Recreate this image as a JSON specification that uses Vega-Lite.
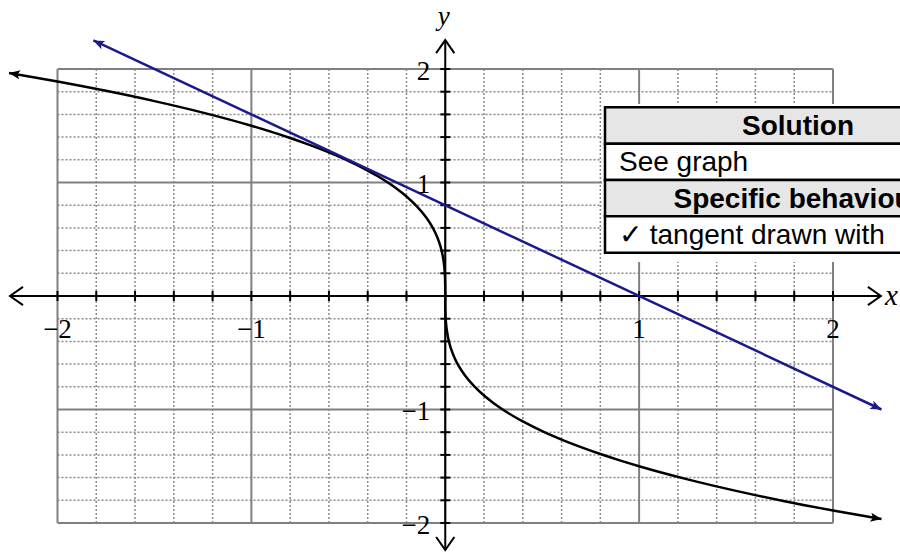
{
  "$schema": "https://vega.github.io/schema/vega-lite/v6.json",
  "width": 900,
  "height": 552,
  "padding": 0,
  "autosize": {"type": "none"},
  "background": "white",
  "config": {"view": {"stroke": null}},
  "datasets": {
    "grid": [
      {"v": -2, "major": true}, {"v": -1.8, "major": false}, {"v": -1.6, "major": false}, {"v": -1.4, "major": false}, {"v": -1.2, "major": false},
      {"v": -1, "major": true}, {"v": -0.8, "major": false}, {"v": -0.6, "major": false}, {"v": -0.4, "major": false}, {"v": -0.2, "major": false},
      {"v": 0, "major": true}, {"v": 0.2, "major": false}, {"v": 0.4, "major": false}, {"v": 0.6, "major": false}, {"v": 0.8, "major": false},
      {"v": 1, "major": true}, {"v": 1.2, "major": false}, {"v": 1.4, "major": false}, {"v": 1.6, "major": false}, {"v": 1.8, "major": false},
      {"v": 2, "major": true}
    ],
    "axisEnds": [
      {"axis": "x", "dir": "left", "x": -2.245, "y": 0},
      {"axis": "x", "dir": "right", "x": 2.247, "y": 0},
      {"axis": "y", "dir": "down", "x": 0, "y": -2.238},
      {"axis": "y", "dir": "up", "x": 0, "y": 2.255}
    ],
    "curve": [
      {"x": -2.25, "y": 1.9656, "end": "left"},
      {"x": -2.0, "y": 1.8899}, {"x": -1.75, "y": 1.8077}, {"x": -1.5, "y": 1.7171}, {"x": -1.25, "y": 1.6158},
      {"x": -1.0, "y": 1.5}, {"x": -0.9, "y": 1.4482}, {"x": -0.8, "y": 1.3925}, {"x": -0.7, "y": 1.3319},
      {"x": -0.6, "y": 1.2651}, {"x": -0.5, "y": 1.1906}, {"x": -0.4, "y": 1.1052}, {"x": -0.35, "y": 1.0571},
      {"x": -0.3, "y": 1.0041}, {"x": -0.25, "y": 0.9449}, {"x": -0.2, "y": 0.8772}, {"x": -0.15, "y": 0.797},
      {"x": -0.1, "y": 0.6963}, {"x": -0.07, "y": 0.6182}, {"x": -0.05, "y": 0.5526}, {"x": -0.03, "y": 0.4661},
      {"x": -0.02, "y": 0.4072}, {"x": -0.01, "y": 0.3232}, {"x": -0.005, "y": 0.2565}, {"x": -0.002, "y": 0.189},
      {"x": -0.001, "y": 0.15}, {"x": -0.0003, "y": 0.1004}, {"x": -0.0001, "y": 0.0696},
      {"x": 0, "y": 0},
      {"x": 0.0001, "y": -0.0696}, {"x": 0.0003, "y": -0.1004}, {"x": 0.001, "y": -0.15}, {"x": 0.002, "y": -0.189},
      {"x": 0.005, "y": -0.2565}, {"x": 0.01, "y": -0.3232}, {"x": 0.02, "y": -0.4072}, {"x": 0.03, "y": -0.4661},
      {"x": 0.05, "y": -0.5526}, {"x": 0.07, "y": -0.6182}, {"x": 0.1, "y": -0.6963}, {"x": 0.15, "y": -0.797},
      {"x": 0.2, "y": -0.8772}, {"x": 0.25, "y": -0.9449}, {"x": 0.3, "y": -1.0041}, {"x": 0.35, "y": -1.0571},
      {"x": 0.4, "y": -1.1052}, {"x": 0.5, "y": -1.1906}, {"x": 0.6, "y": -1.2651}, {"x": 0.7, "y": -1.3319},
      {"x": 0.8, "y": -1.3925}, {"x": 0.9, "y": -1.4482}, {"x": 1.0, "y": -1.5}, {"x": 1.25, "y": -1.6158},
      {"x": 1.5, "y": -1.7171}, {"x": 1.75, "y": -1.8077}, {"x": 2.0, "y": -1.8899},
      {"x": 2.25, "y": -1.9656, "end": "right"}
    ],
    "tangent": [
      {"x": -1.815, "y": 2.252, "end": "left"},
      {"x": 2.25, "y": -1.0, "end": "right"}
    ],
    "xlabels": [
      {"v": -2, "t": "−2"}, {"v": -1, "t": "−1"}, {"v": 1, "t": "1"}, {"v": 2, "t": "2"}
    ],
    "ylabels": [
      {"v": 2, "t": "2"}, {"v": 1, "t": "1"}, {"v": -1, "t": "−1"}, {"v": -2, "t": "−2"}
    ],
    "table": [
      {"row": 0, "end": 1, "label": "Solution", "head": true},
      {"row": 1, "end": 2, "label": "See graph", "head": false},
      {"row": 2, "end": 3, "label": "Specific behaviour", "head": true},
      {"row": 3, "end": 4, "label": "✓ tangent drawn with", "head": false}
    ]
  },
  "resolve": {"scale": {"y": "independent"}},
  "layer": [
    {
      "layer": [
        {
          "data": {"name": "grid"},
          "transform": [{"filter": "!datum.major"}],
          "mark": {"type": "rule", "color": "#8a8a8a", "strokeWidth": 1.5, "strokeDash": [2, 2]},
          "encoding": {
            "x": {"field": "v", "type": "quantitative", "scale": {"domain": [-2.2966, 2.3456], "nice": false, "zero": false}, "axis": null},
            "y": {"datum": -2, "type": "quantitative", "scale": {"domain": [-2.2555, 2.6079], "nice": false, "zero": false}, "axis": null},
            "y2": {"datum": 2}
          }
        },
        {
          "data": {"name": "grid"},
          "transform": [{"filter": "!datum.major"}],
          "mark": {"type": "rule", "color": "#8a8a8a", "strokeWidth": 1.5, "strokeDash": [2, 2]},
          "encoding": {
            "y": {"field": "v", "type": "quantitative", "scale": {"domain": [-2.2555, 2.6079], "nice": false, "zero": false}, "axis": null},
            "x": {"datum": -2, "type": "quantitative", "scale": {"domain": [-2.2966, 2.3456], "nice": false, "zero": false}, "axis": null},
            "x2": {"datum": 2}
          }
        },
        {
          "data": {"name": "grid"},
          "transform": [{"filter": "datum.major"}],
          "mark": {"type": "rule", "color": "#808080", "strokeWidth": 2},
          "encoding": {
            "x": {"field": "v", "type": "quantitative", "scale": {"domain": [-2.2966, 2.3456], "nice": false, "zero": false}, "axis": null},
            "y": {"datum": -2, "type": "quantitative", "scale": {"domain": [-2.2555, 2.6079], "nice": false, "zero": false}, "axis": null},
            "y2": {"datum": 2}
          }
        },
        {
          "data": {"name": "grid"},
          "transform": [{"filter": "datum.major"}],
          "mark": {"type": "rule", "color": "#808080", "strokeWidth": 2},
          "encoding": {
            "y": {"field": "v", "type": "quantitative", "scale": {"domain": [-2.2555, 2.6079], "nice": false, "zero": false}, "axis": null},
            "x": {"datum": -2, "type": "quantitative", "scale": {"domain": [-2.2966, 2.3456], "nice": false, "zero": false}, "axis": null},
            "x2": {"datum": 2}
          }
        },
        {
          "data": {"name": "axisEnds"},
          "mark": {"type": "line", "color": "black", "strokeWidth": 2},
          "encoding": {
            "x": {"field": "x", "type": "quantitative", "scale": {"domain": [-2.2966, 2.3456], "nice": false, "zero": false}, "axis": null},
            "y": {"field": "y", "type": "quantitative", "scale": {"domain": [-2.2555, 2.6079], "nice": false, "zero": false}, "axis": null},
            "detail": {"field": "axis"}
          }
        },
        {
          "data": {"name": "grid"},
          "mark": {"type": "point", "shape": "stroke", "angle": 90, "size": 100, "filled": false, "color": "black", "strokeWidth": 2, "opacity": 1},
          "encoding": {
            "x": {"field": "v", "type": "quantitative", "scale": {"domain": [-2.2966, 2.3456], "nice": false, "zero": false}, "axis": null},
            "y": {"datum": 0, "type": "quantitative", "scale": {"domain": [-2.2555, 2.6079], "nice": false, "zero": false}, "axis": null}
          }
        },
        {
          "data": {"name": "grid"},
          "mark": {"type": "point", "shape": "stroke", "angle": 0, "size": 100, "filled": false, "color": "black", "strokeWidth": 2, "opacity": 1},
          "encoding": {
            "y": {"field": "v", "type": "quantitative", "scale": {"domain": [-2.2555, 2.6079], "nice": false, "zero": false}, "axis": null},
            "x": {"datum": 0, "type": "quantitative", "scale": {"domain": [-2.2966, 2.3456], "nice": false, "zero": false}, "axis": null}
          }
        },
        {
          "data": {"name": "axisEnds"},
          "mark": {"type": "point", "filled": false, "color": "black", "strokeWidth": 2, "size": 676, "opacity": 1},
          "encoding": {
            "x": {"field": "x", "type": "quantitative", "scale": {"domain": [-2.2966, 2.3456], "nice": false, "zero": false}, "axis": null},
            "y": {"field": "y", "type": "quantitative", "scale": {"domain": [-2.2555, 2.6079], "nice": false, "zero": false}, "axis": null},
            "shape": {
              "field": "dir", "type": "nominal", "legend": null,
              "scale": {
                "domain": ["left", "right", "up", "down"],
                "range": ["M 1 -0.7 L 0 0 L 1 0.7", "M -1 -0.7 L 0 0 L -1 0.7", "M -0.7 1 L 0 0 L 0.7 1", "M -0.7 -1 L 0 0 L 0.7 -1"]
              }
            }
          }
        },
        {
          "data": {"name": "curve"},
          "mark": {"type": "line", "color": "black", "strokeWidth": 2.5, "interpolate": "monotone"},
          "encoding": {
            "x": {"field": "x", "type": "quantitative", "scale": {"domain": [-2.2966, 2.3456], "nice": false, "zero": false}, "axis": null},
            "y": {"field": "y", "type": "quantitative", "scale": {"domain": [-2.2555, 2.6079], "nice": false, "zero": false}, "axis": null}
          }
        },
        {
          "data": {"name": "curve"},
          "transform": [{"filter": "datum.end == 'left'"}],
          "mark": {"type": "point", "shape": "M 0 0 L -1 -0.42 L -0.78 0 L -1 0.42 Z", "filled": true, "color": "black", "size": 484, "angle": 189.67, "opacity": 1},
          "encoding": {
            "x": {"field": "x", "type": "quantitative", "scale": {"domain": [-2.2966, 2.3456], "nice": false, "zero": false}, "axis": null},
            "y": {"field": "y", "type": "quantitative", "scale": {"domain": [-2.2555, 2.6079], "nice": false, "zero": false}, "axis": null}
          }
        },
        {
          "data": {"name": "curve"},
          "transform": [{"filter": "datum.end == 'right'"}],
          "mark": {"type": "point", "shape": "M 0 0 L -1 -0.42 L -0.78 0 L -1 0.42 Z", "filled": true, "color": "black", "size": 484, "angle": 9.67, "opacity": 1},
          "encoding": {
            "x": {"field": "x", "type": "quantitative", "scale": {"domain": [-2.2966, 2.3456], "nice": false, "zero": false}, "axis": null},
            "y": {"field": "y", "type": "quantitative", "scale": {"domain": [-2.2555, 2.6079], "nice": false, "zero": false}, "axis": null}
          }
        },
        {
          "data": {"name": "tangent"},
          "mark": {"type": "line", "color": "#1a1a8e", "strokeWidth": 2.5},
          "encoding": {
            "x": {"field": "x", "type": "quantitative", "scale": {"domain": [-2.2966, 2.3456], "nice": false, "zero": false}, "axis": null},
            "y": {"field": "y", "type": "quantitative", "scale": {"domain": [-2.2555, 2.6079], "nice": false, "zero": false}, "axis": null}
          }
        },
        {
          "data": {"name": "tangent"},
          "transform": [{"filter": "datum.end == 'left'"}],
          "mark": {"type": "point", "shape": "M 0 0 L -1 -0.42 L -0.78 0 L -1 0.42 Z", "filled": true, "color": "#1a1a8e", "size": 484, "angle": 205.14, "opacity": 1},
          "encoding": {
            "x": {"field": "x", "type": "quantitative", "scale": {"domain": [-2.2966, 2.3456], "nice": false, "zero": false}, "axis": null},
            "y": {"field": "y", "type": "quantitative", "scale": {"domain": [-2.2555, 2.6079], "nice": false, "zero": false}, "axis": null}
          }
        },
        {
          "data": {"name": "tangent"},
          "transform": [{"filter": "datum.end == 'right'"}],
          "mark": {"type": "point", "shape": "M 0 0 L -1 -0.42 L -0.78 0 L -1 0.42 Z", "filled": true, "color": "#1a1a8e", "size": 484, "angle": 25.14, "opacity": 1},
          "encoding": {
            "x": {"field": "x", "type": "quantitative", "scale": {"domain": [-2.2966, 2.3456], "nice": false, "zero": false}, "axis": null},
            "y": {"field": "y", "type": "quantitative", "scale": {"domain": [-2.2555, 2.6079], "nice": false, "zero": false}, "axis": null}
          }
        },
        {
          "data": {"name": "xlabels"},
          "mark": {"type": "text", "font": "Liberation Serif", "fontSize": 27, "color": "black", "align": "center", "baseline": "alphabetic", "dy": 42},
          "encoding": {
            "x": {"field": "v", "type": "quantitative", "scale": {"domain": [-2.2966, 2.3456], "nice": false, "zero": false}, "axis": null},
            "y": {"datum": 0, "type": "quantitative", "scale": {"domain": [-2.2555, 2.6079], "nice": false, "zero": false}, "axis": null},
            "text": {"field": "t"}
          }
        },
        {
          "data": {"name": "ylabels"},
          "mark": {"type": "text", "font": "Liberation Serif", "fontSize": 27, "color": "black", "align": "right", "baseline": "middle", "dx": -15, "dy": 3},
          "encoding": {
            "y": {"field": "v", "type": "quantitative", "scale": {"domain": [-2.2555, 2.6079], "nice": false, "zero": false}, "axis": null},
            "x": {"datum": 0, "type": "quantitative", "scale": {"domain": [-2.2966, 2.3456], "nice": false, "zero": false}, "axis": null},
            "text": {"field": "t"}
          }
        },
        {
          "data": {"values": [{"name": "x"}]},
          "mark": {"type": "text", "font": "Liberation Serif", "fontStyle": "italic", "fontSize": 29, "color": "black", "align": "left", "baseline": "alphabetic"},
          "encoding": {
            "x": {"datum": 2.268, "type": "quantitative", "scale": {"domain": [-2.2966, 2.3456], "nice": false, "zero": false}, "axis": null},
            "y": {"datum": -0.079, "type": "quantitative", "scale": {"domain": [-2.2555, 2.6079], "nice": false, "zero": false}, "axis": null},
            "text": {"field": "name"}
          }
        },
        {
          "data": {"values": [{"name": "y"}]},
          "mark": {"type": "text", "font": "Liberation Serif", "fontStyle": "italic", "fontSize": 27, "color": "black", "align": "center", "baseline": "alphabetic"},
          "encoding": {
            "x": {"datum": -0.008, "type": "quantitative", "scale": {"domain": [-2.2966, 2.3456], "nice": false, "zero": false}, "axis": null},
            "y": {"datum": 2.392, "type": "quantitative", "scale": {"domain": [-2.2555, 2.6079], "nice": false, "zero": false}, "axis": null},
            "text": {"field": "name"}
          }
        }
      ]
    },
    {
      "layer": [
        {
          "data": {"values": [{}]},
          "mark": {"type": "rect", "fill": "white", "stroke": null},
          "encoding": {
            "x": {"datum": 0.8085, "type": "quantitative", "scale": {"domain": [-2.2966, 2.3456], "nice": false, "zero": false}, "axis": null},
            "x2": {"datum": 2.9},
            "y": {"datum": -0.09, "type": "quantitative", "scale": {"domain": [-2.952, 12.234], "reverse": true, "nice": false, "zero": false}, "axis": null},
            "y2": {"datum": 4.256}
          }
        },
        {
          "data": {"name": "table"},
          "mark": {"type": "rect", "stroke": "black", "strokeWidth": 2.5},
          "encoding": {
            "x": {"datum": 0.824, "type": "quantitative", "scale": {"domain": [-2.2966, 2.3456], "nice": false, "zero": false}, "axis": null},
            "x2": {"datum": 2.9},
            "y": {"field": "row", "type": "quantitative", "scale": {"domain": [-2.952, 12.234], "reverse": true, "nice": false, "zero": false}, "axis": null},
            "y2": {"field": "end"},
            "fill": {"condition": {"test": "datum.head", "value": "#e6e6e6"}, "value": "white"}
          }
        },
        {
          "data": {"name": "table"},
          "transform": [{"filter": "datum.head"}],
          "mark": {"type": "text", "font": "Liberation Sans", "fontWeight": "bold", "fontSize": 28, "color": "black", "align": "center", "baseline": "alphabetic", "dy": 27.5},
          "encoding": {
            "x": {"datum": 1.8195, "type": "quantitative", "scale": {"domain": [-2.2966, 2.3456], "nice": false, "zero": false}, "axis": null},
            "y": {"field": "row", "type": "quantitative", "scale": {"domain": [-2.952, 12.234], "reverse": true, "nice": false, "zero": false}, "axis": null},
            "text": {"field": "label"}
          }
        },
        {
          "data": {"name": "table"},
          "transform": [{"filter": "!datum.head"}],
          "mark": {"type": "text", "font": "Liberation Sans", "fontSize": 28, "color": "black", "align": "left", "baseline": "alphabetic", "dy": 27.5},
          "encoding": {
            "x": {"datum": 0.896, "type": "quantitative", "scale": {"domain": [-2.2966, 2.3456], "nice": false, "zero": false}, "axis": null},
            "y": {"field": "row", "type": "quantitative", "scale": {"domain": [-2.952, 12.234], "reverse": true, "nice": false, "zero": false}, "axis": null},
            "text": {"field": "label"}
          }
        }
      ]
    }
  ]
}
